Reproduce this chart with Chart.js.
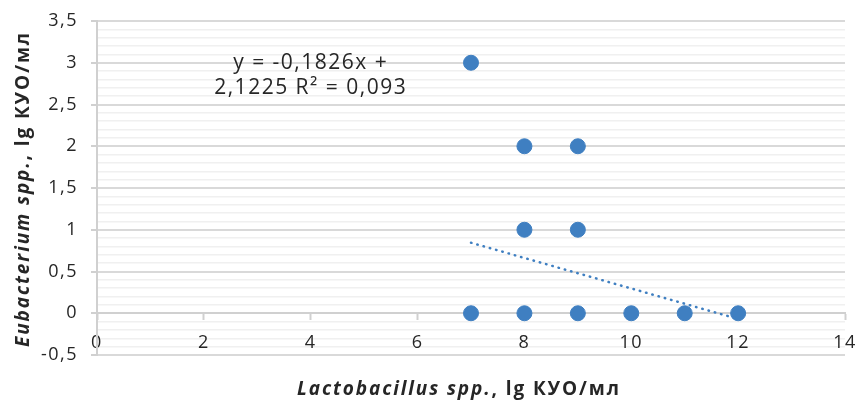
<!DOCTYPE html>
<html>
<head>
<meta charset="utf-8">
<script src="https://cdn.jsdelivr.net/npm/chart.js@4"></script>
<style>
  html, body { margin: 0; padding: 0; background: #fff; }
  #wrap { width: 859px; height: 408px; }
</style>
</head>
<body>
<div id="wrap"><canvas id="grafico"></canvas></div>
<script>
// Dados
const lactobacillusX = [7, 8, 9, 8, 9, 7, 8, 9, 10, 11, 12];
const eubacteriumY = [3, 2, 2, 1, 1, 0, 0, 0, 0, 0, 0];
const tendenciaX = [7, 12];
const tendenciaY = [0.845, -0.069];
const equacaoLinhas = ['y = -0,1826x +', '2,1225 R² = 0,093'];

const azul = '#3f7fc1';
const corTexto = '#262626';
const fonte = '"Open Sans", "Noto Sans", sans-serif';

const isMajor = v => Math.round(v * 10) % 5 === 0;

// espaçamento entre letras para os ticks (fonte original é mais larga)
function aplicarEspacamento(chart) { chart.ctx.letterSpacing = '1.5px'; }
const espacamentoPlugin = {
    id: 'espacamento',
    beforeUpdate: aplicarEspacamento,
    beforeLayout: aplicarEspacamento,
    afterLayout: aplicarEspacamento,
    beforeDraw: aplicarEspacamento
};

// desenha títulos dos eixos (itálico + negrito misturados) e a equação
const textosPlugin = {
    id: 'textos',
    afterDraw(chart) {
        const ctx = chart.ctx;
        const { x, y } = chart.scales;

        function parteMista(partes, cx, cy) {
            let total = 0;
            partes.forEach(p => { ctx.font = p.f; total += ctx.measureText(p.t).width; });
            let pos = cx - total / 2;
            partes.forEach(p => {
                ctx.font = p.f;
                ctx.fillText(p.t, pos, cy);
                pos += ctx.measureText(p.t).width;
            });
        }

        ctx.save();
        ctx.fillStyle = corTexto;
        ctx.textBaseline = 'middle';
        ctx.textAlign = 'left';
        ctx.letterSpacing = '1.9px';
        parteMista([
            { t: 'Lactobacillus spp.', f: 'italic bold 19px ' + fonte },
            { t: ', lg КУО/мл', f: 'bold 19px ' + fonte }
        ], 459, 390);

        ctx.translate(24, 189);
        ctx.rotate(-Math.PI / 2);
        parteMista([
            { t: 'Eubacterium spp.', f: 'italic bold 19px ' + fonte },
            { t: ', lg КУО/мл', f: 'bold 19px ' + fonte }
        ], 0, 0);
        ctx.restore();

        ctx.save();
        ctx.fillStyle = corTexto;
        ctx.font = '21px ' + fonte;
        ctx.letterSpacing = '1.5px';
        ctx.textAlign = 'center';
        ctx.textBaseline = 'middle';
        ctx.fillText(equacaoLinhas[0], x.getPixelForValue(4), y.getPixelForValue(3));
        ctx.fillText(equacaoLinhas[1], x.getPixelForValue(4), y.getPixelForValue(2.7));
        ctx.restore();
    }
};

new Chart(document.getElementById('grafico'), {
    type: 'scatter',
    data: {
        datasets: [
            {
                label: 'Tendência',
                data: tendenciaX.map((v, i) => ({ x: v, y: tendenciaY[i] })),
                showLine: true,
                borderColor: azul,
                borderWidth: 2.5,
                borderDash: [0.5, 6],
                borderCapStyle: 'round',
                pointRadius: 0,
                order: 0
            },
            {
                label: 'Eubacterium',
                data: lactobacillusX.map((v, i) => ({ x: v, y: eubacteriumY[i] })),
                backgroundColor: azul,
                borderColor: azul,
                pointRadius: 7.5,
                pointHoverRadius: 7.5,
                order: 1
            }
        ]
    },
    options: {
        responsive: true,
        maintainAspectRatio: false,
        animation: false,
        layout: { padding: { left: 0, right: 14, top: 21, bottom: 53 } },
        plugins: { legend: { display: false }, tooltip: { enabled: false } },
        scales: {
            x: {
                type: 'linear',
                position: { y: 0 },
                min: 0,
                max: 14,
                ticks: { stepSize: 2, color: corTexto, padding: 13, font: { size: 18, family: fonte } },
                grid: { drawOnChartArea: false, drawTicks: true, tickLength: 6, color: '#d0d0d0', tickWidth: 2 },
                border: { color: '#d0d0d0', width: 2 },
                afterFit(scale) { scale.paddingLeft = 0; scale.paddingRight = 0; }
            },
            y: {
                type: 'linear',
                min: -0.5,
                max: 3.5,
                ticks: {
                    stepSize: 0.1,
                    autoSkip: false,
                    color: corTexto,
                    padding: 13,
                    font: { size: 18, family: fonte },
                    callback: v => isMajor(v) ? (Math.round(v * 10) / 10).toString().replace('.', ',') : ''
                },
                grid: {
                    color: c => isMajor(c.tick.value) ? '#d9d9d9' : '#f0f0f0',
                    lineWidth: c => isMajor(c.tick.value) ? 2 : 1.5,
                    tickColor: c => isMajor(c.tick.value) ? '#d0d0d0' : 'rgba(0,0,0,0)',
                    tickLength: 6
                },
                border: { color: '#d0d0d0', width: 2 },
                afterFit(scale) { scale.width = 97; scale.paddingTop = 0; scale.paddingBottom = 0; }
            }
        }
    },
    plugins: [espacamentoPlugin, textosPlugin]
});
</script>
</body>
</html>
